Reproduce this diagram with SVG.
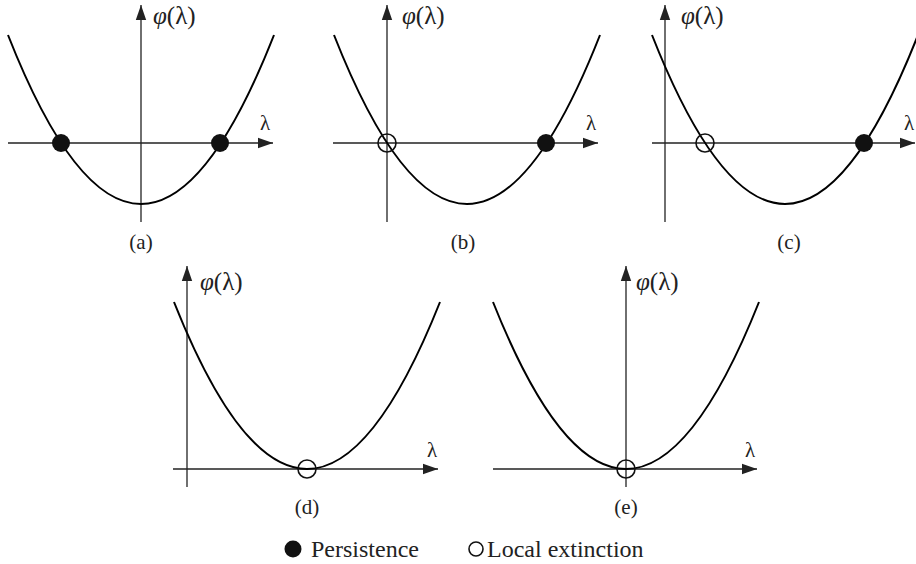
<svg xmlns="http://www.w3.org/2000/svg" width="916" height="564" viewBox="0 0 916 564">
<style>
.ax{stroke:#222;stroke-width:1.3;fill:none;marker-end:url(#ah)}
.cv{stroke:#000;stroke-width:2;fill:none}
.fd{fill:#111}
.od{fill:none;stroke:#111;stroke-width:1.6}
.lb{font-family:"Liberation Serif",serif;font-size:21px;fill:#222}
.fn{font-family:"Liberation Serif",serif;font-size:25px;fill:#222}
.lg{font-family:"Liberation Serif",serif;font-size:24px;fill:#222}
</style>
<defs>
<marker id="ah" markerUnits="userSpaceOnUse" markerWidth="16" markerHeight="12" refX="15" refY="6" orient="auto">
<polygon points="0,0.8 15,6 0,11.2" fill="#222"/>
</marker>
</defs>
<rect width="916" height="564" fill="#fff"/>
<g id="connectors">
<line class="ax" x1="141" y1="222" x2="141" y2="5"/>
<line class="ax" x1="8" y1="143" x2="273" y2="143"/>
<line class="ax" x1="387" y1="222" x2="387" y2="5"/>
<line class="ax" x1="333" y1="143" x2="598" y2="143"/>
<line class="ax" x1="665" y1="222" x2="665" y2="5"/>
<line class="ax" x1="652" y1="143" x2="915" y2="143"/>
<line class="ax" x1="187" y1="487" x2="187" y2="266"/>
<line class="ax" x1="173" y1="469" x2="438" y2="469"/>
<line class="ax" x1="626" y1="487" x2="626" y2="266"/>
<line class="ax" x1="493" y1="469" x2="757" y2="469"/>
</g>
<g id="panel-a">
<path class="cv" d="M8,35 Q141,373 274,35"/>
<circle class="fd" cx="61" cy="143" r="9"/>
<circle class="fd" cx="220" cy="143" r="9"/>
<text class="fn" x="153" y="24"><tspan font-style="italic">φ</tspan>(λ)</text>
<text class="lb" x="260" y="130">λ</text>
<text class="lb" x="141" y="249" text-anchor="middle">(a)</text>
</g>
<g id="panel-b">
<path class="cv" d="M334,35 Q467,373 600,35"/>
<circle class="od" cx="387" cy="143" r="9"/>
<circle class="fd" cx="546" cy="143" r="9"/>
<text class="fn" x="402" y="24"><tspan font-style="italic">φ</tspan>(λ)</text>
<text class="lb" x="586" y="130">λ</text>
<text class="lb" x="463" y="249" text-anchor="middle">(b)</text>
</g>
<g id="panel-c">
<path class="cv" d="M652,35 Q785,373 918,35"/>
<circle class="od" cx="705" cy="143" r="9"/>
<circle class="fd" cx="864" cy="143" r="9"/>
<text class="fn" x="681" y="24"><tspan font-style="italic">φ</tspan>(λ)</text>
<text class="lb" x="904" y="130">λ</text>
<text class="lb" x="789" y="249" text-anchor="middle">(c)</text>
</g>
<g id="panel-d">
<path class="cv" d="M174,302 Q307,636 440,302"/>
<circle class="od" cx="307" cy="469" r="9"/>
<text class="fn" x="200" y="290"><tspan font-style="italic">φ</tspan>(λ)</text>
<text class="lb" x="427" y="457">λ</text>
<text class="lb" x="307" y="514" text-anchor="middle">(d)</text>
</g>
<g id="panel-e">
<path class="cv" d="M493,302 Q626,636 759,302"/>
<circle class="od" cx="626" cy="469" r="9"/>
<text class="fn" x="636" y="290"><tspan font-style="italic">φ</tspan>(λ)</text>
<text class="lb" x="745" y="457">λ</text>
<text class="lb" x="626" y="514" text-anchor="middle">(e)</text>
</g>
<g id="legend">
<circle class="fd" cx="293" cy="549" r="8.5"/>
<text class="lg" x="311" y="557">Persistence</text>
<circle class="od" cx="476" cy="549" r="7"/>
<text class="lg" x="487" y="557">Local extinction</text>
</g>
</svg>
